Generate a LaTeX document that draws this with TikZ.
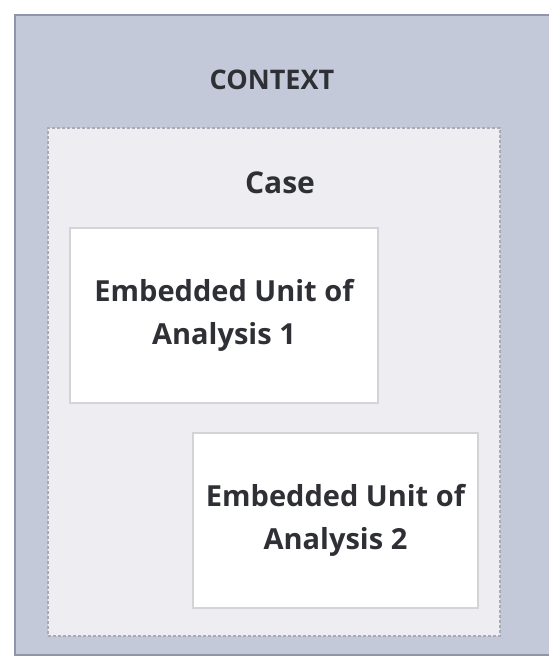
\documentclass[tikz,border=0pt]{standalone}
\usepackage{fontspec}
\setmainfont{Open Sans}
\usepackage{tikz}
\usetikzlibrary{positioning}
\usepackage{xcolor}
\definecolor{ctxfill}{HTML}{C4C9D9}
\definecolor{ctxline}{HTML}{8E95A8}
\definecolor{casefill}{HTML}{EEEEF2}
\definecolor{caseline}{HTML}{A8ABB6}
\definecolor{unitline}{HTML}{D2D4D8}
\definecolor{labeltext}{HTML}{2E3035}

\begin{document}
\begin{tikzpicture}[
x = 1pt, y = -1pt,
every node/.style = {inner sep = 0pt, outer sep = 0pt},
  contextbox/.style = {draw = ctxline, line width = 2pt, fill = ctxfill, anchor = north west},
  casebox/.style = {draw = caseline, line width = 1.5pt, dash pattern = on 3pt off 2pt, fill = casefill, anchor = north west},
  unitbox/.style = {draw = unitline, line width = 2pt, fill = white, anchor = north west},
  label/.style = {font = \fontsize{#1}{43}\selectfont\bfseries, text = labeltext, align = center},
  label/.default = 28
]
\useasboundingbox (0,0) rectangle (549,657);
\fill[white] (0,0) rectangle (549,657);
\begin{scope}
\clip (0,0) rectangle (549,657);
\node[contextbox, minimum width = 550pt, minimum height = 640pt] (context) at (15,15) {};
\end{scope}
\node[label = 27] (contextlabel) at (272,80) {CONTEXT};

\node[casebox, minimum width = 452pt, minimum height = 508pt] (case) at (48,128) {};
\node[label = 30] (caselabel) at (280,183) {Case};

% embedded units
\node[unitbox, minimum width = 308pt, minimum height = 175pt] (unit1) at (70,228) {};
\node[label = 29] (unit1label) at (unit1.center) {Embedded Unit of\\Analysis 1};
\node[unitbox, minimum width = 285pt, minimum height = 175pt] (unit2) at (193,433) {};
\node[label = 29] (unit2label) at (unit2.center) {Embedded Unit of\\Analysis 2};
\end{tikzpicture}
\end{document}
